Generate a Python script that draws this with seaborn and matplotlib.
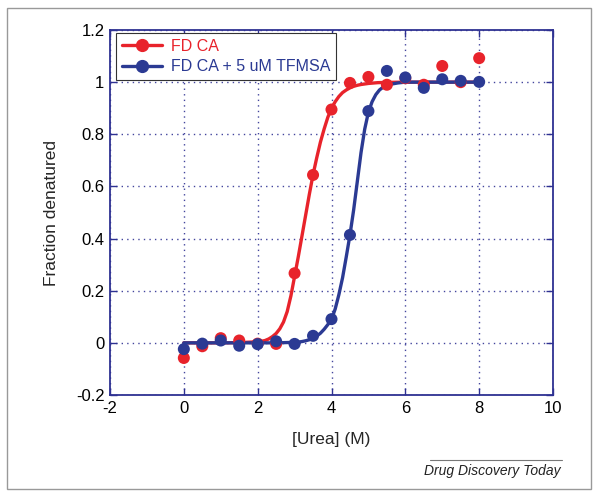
import numpy as np
import pandas as pd
import seaborn as sns
import matplotlib.pyplot as plt
from matplotlib.lines import Line2D
from matplotlib.patches import Rectangle

# measured points
urea = [0, 0.5, 1, 1.5, 2, 2.5, 3, 3.5, 4, 4.5, 5, 5.5, 6, 6.5, 7, 7.5, 8]
fd_ca = [-0.058, -0.013, 0.018, 0.009, -0.003, -0.004, 0.267, 0.644, 0.895,
         0.997, 1.02, 0.99, 1.015, 0.99, 1.062, 1.0, 1.092]
fd_ca_tfmsa = [-0.024, -0.003, 0.009, -0.011, -0.005, 0.006, -0.004, 0.027,
               0.091, 0.414, 0.889, 1.043, 1.018, 0.978, 1.011, 1.005, 1.001]

# fitted curves
fit_x_red = [0, 1, 1.5, 2.0, 2.1, 2.2, 2.3, 2.4, 2.5, 2.6, 2.7, 2.8, 2.9,
             3.0, 3.1, 3.2, 3.3, 3.4, 3.5, 3.6, 3.7, 3.8, 3.9, 4.0, 4.1,
             4.2, 4.3, 4.4, 4.5, 4.6, 4.7, 4.8, 4.9, 5.0, 5.25, 5.5, 6, 8]
fit_y_red = [0, 0, 0.001, 0.004, 0.006, 0.009, 0.015, 0.024, 0.036, 0.054,
             0.08, 0.12, 0.18, 0.255, 0.33, 0.41, 0.49, 0.57, 0.645, 0.71,
             0.77, 0.82, 0.865, 0.9, 0.925, 0.945, 0.96, 0.97, 0.978, 0.984,
             0.988, 0.991, 0.993, 0.995, 0.998, 0.999, 1.0, 1.0]
fit_x_blue = [0, 2.5, 3.0, 3.1, 3.2, 3.3, 3.4, 3.5, 3.6, 3.7, 3.8, 3.9, 4.0,
              4.1, 4.2, 4.3, 4.4, 4.5, 4.6, 4.7, 4.8, 4.9, 5.0, 5.1, 5.2,
              5.3, 5.4, 5.5, 5.6, 5.8, 6.0, 8]
fit_y_blue = [0, 0, 0.002, 0.003, 0.005, 0.008, 0.012, 0.018, 0.026, 0.037,
              0.052, 0.07, 0.09, 0.13, 0.185, 0.25, 0.33, 0.414, 0.51, 0.62,
              0.73, 0.82, 0.885, 0.925, 0.952, 0.97, 0.981, 0.988, 0.992,
              0.997, 1.0, 1.0]

labels = ["FD CA", "FD CA + 5 uM TFMSA"]
red = "#e8232b"
blue = "#2b3a93"
navy = "#2e3192"

sns.set_style("white")
plt.rcParams['font.family'] = ['Liberation Sans', 'DejaVu Sans']

fig = plt.figure(figsize=(6, 4.94), dpi=100)
ax = fig.add_axes([110 / 600, 99 / 494, 443 / 600, 365 / 494])

red_fit = pd.DataFrame({"x": fit_x_red, "y": fit_y_red})
blue_fit = pd.DataFrame({"x": fit_x_blue, "y": fit_y_blue})
pts = pd.DataFrame({"x": urea, "red": fd_ca, "blue": fd_ca_tfmsa})

sns.lineplot(data=red_fit, x="x", y="y", ax=ax, color=red, linewidth=2.4,
             sort=False, zorder=3)
sns.lineplot(data=blue_fit, x="x", y="y", ax=ax, color=blue, linewidth=2.4,
             sort=False, zorder=3)
sns.scatterplot(data=pts, x="x", y="red", ax=ax, color=red, s=75,
                edgecolor="none", zorder=4)
sns.scatterplot(data=pts, x="x", y="blue", ax=ax, color=blue, s=75,
                edgecolor="none", zorder=5)

ax.set_xlim(-2, 10)
ax.set_ylim(-0.2, 1.2)
ax.set_xticks(np.arange(-2, 11, 2))
ax.set_yticks(np.arange(-0.2, 1.21, 0.2))
ax.set_xticklabels(["-2", "0", "2", "4", "6", "8", "10"])
ax.set_yticklabels(["-0.2", "0", "0.2", "0.4", "0.6", "0.8", "1", "1.2"])
ax.grid(True, linestyle=(0, (1, 3)), color=navy, linewidth=1.0, alpha=0.9)
for sp in ax.spines.values():
    sp.set_color(navy)
    sp.set_linewidth(1.3)
ax.tick_params(direction="in", length=5, width=1.0, color=navy,
               labelsize=12, labelcolor="black", top=True, right=True,
               bottom=True, left=True, pad=4)
ax.set_xlabel("[Urea] (M)", fontsize=12.5, labelpad=12)
ax.set_ylabel("Fraction denatured", fontsize=12.5, labelpad=12)

handles = [Line2D([], [], color=red, linewidth=2.4, marker="o", markersize=8.5),
           Line2D([], [], color=blue, linewidth=2.4, marker="o", markersize=8.5)]
leg = ax.legend(handles, labels, loc="upper left",
                bbox_to_anchor=(6 / 443, 1 - 3 / 365), borderaxespad=0,
                fontsize=11.5, handlelength=2.5, handletextpad=0.6,
                labelspacing=0.35, borderpad=0.35, fancybox=False,
                framealpha=1, edgecolor="#333333")
leg.get_frame().set_linewidth(0.8)
leg.get_texts()[0].set_color(red)
leg.get_texts()[1].set_color(blue)

# outer frame and source line
fig.patches.append(Rectangle((7 / 600, 1 - 489 / 494), 584 / 600, 481 / 494,
                             transform=fig.transFigure, fill=False,
                             edgecolor="#999999", linewidth=1.0))
fig.add_artist(Line2D([430 / 600, 562 / 600], [1 - 460 / 494, 1 - 460 / 494],
                      transform=fig.transFigure, color="#777777",
                      linewidth=0.8))
fig.text(561 / 600, 1 - 471 / 494, "Drug Discovery Today", ha="right",
         va="center", fontsize=10, style="italic", color="#222222")

fig.savefig("out.png", dpi=100)
